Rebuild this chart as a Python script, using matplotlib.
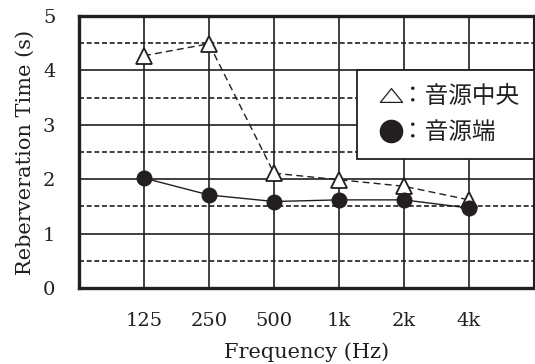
import matplotlib
matplotlib.use("Agg")
import matplotlib.pyplot as plt
from matplotlib.lines import Line2D
from matplotlib.path import Path

categories = ["125", "250", "500", "1k", "2k", "4k"]
center_values = [4.27, 4.49, 2.11, 1.99, 1.87, 1.62]
edge_values = [2.02, 1.71, 1.59, 1.62, 1.62, 1.47]
series_labels = ["：音源中央", "：音源端"]
y_ticks = [0, 1, 2, 3, 4, 5]

serif = ["DejaVu Serif"]
cjk = ["Noto Sans CJK JP", "DejaVu Sans"]
ink = "#231f20"

fig = plt.figure(figsize=(5.35, 3.64), dpi=100)
ax = fig.add_axes([79/535, 1 - 288/364, (534 - 79)/535, (288 - 16)/364])

x = list(range(1, len(categories) + 1))
ax.set_xlim(0, len(categories) + 1)
ax.set_ylim(0, 5)

# grid
for xi in x:
    ax.axvline(xi, color=ink, lw=1.2, zorder=1)
for yv in [1, 2, 3, 4]:
    ax.axhline(yv, color=ink, lw=1.2, zorder=1)
for yv in [0.5, 1.5, 2.5, 3.5, 4.5]:
    ax.axhline(yv, color=ink, lw=1.2, ls=(0, (3.0, 1.6)), zorder=1)

ax.plot(x, center_values, color=ink, lw=1.0, ls=(0, (5, 3)),
        marker="^", markersize=11, markerfacecolor="white",
        markeredgecolor=ink, markeredgewidth=1.3, zorder=3)
ax.plot(x, edge_values, color=ink, lw=1.0, ls="-",
        marker="o", markersize=10.5, markerfacecolor=ink,
        markeredgecolor=ink, zorder=4)

ax.set_xticks(x)
ax.set_xticklabels(categories, fontfamily=serif, fontsize=14)
ax.set_yticks(y_ticks)
ax.set_yticklabels([str(v) for v in y_ticks], fontfamily=serif, fontsize=14)
ax.tick_params(length=0, colors=ink)
ax.tick_params(axis="y", pad=17)
ax.tick_params(axis="x", pad=17)

ax.set_xlabel("Frequency (Hz)", fontfamily=serif, fontsize=15, color=ink, labelpad=9)
ax.set_ylabel("Reberveration Time (s)", fontfamily=serif, fontsize=15, color=ink, labelpad=6)

for s in ["left", "bottom", "top"]:
    ax.spines[s].set_linewidth(2.4)
    ax.spines[s].set_color(ink)
ax.spines["right"].set_linewidth(1.5)
ax.spines["right"].set_color(ink)

tri = Path([(-1, -0.62), (1, -0.62), (0, 0.62), (-1, -0.62)],
           [Path.MOVETO, Path.LINETO, Path.LINETO, Path.CLOSEPOLY])
handles = [
    Line2D([], [], ls="none", marker=tri, markersize=16, markerfacecolor="white",
           markeredgecolor=ink, markeredgewidth=0.9),
    Line2D([], [], ls="none", marker="o", markersize=16, markerfacecolor=ink,
           markeredgecolor=ink),
]
leg = ax.legend(handles, series_labels, loc="upper right", bbox_to_anchor=(1.0, 0.8),
                prop={"family": cjk, "size": 17}, frameon=True, fancybox=False,
                edgecolor=ink, framealpha=1, borderaxespad=0,
                handlelength=1.6, handletextpad=-0.35, labelspacing=0.55,
                borderpad=0.62)
leg.get_frame().set_linewidth(1.3)
leg.set_zorder(10)
for t in leg.get_texts():
    t.set_color(ink)

fig.savefig("out.png", dpi=100)
